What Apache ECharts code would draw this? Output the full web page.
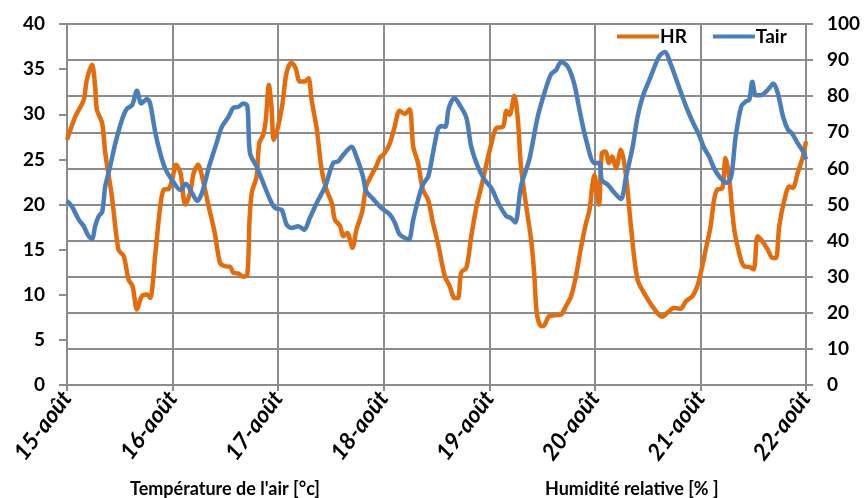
<!DOCTYPE html>
<html>
<head>
<meta charset="utf-8">
<script src="https://cdn.jsdelivr.net/npm/echarts@6/dist/echarts.min.js"></script>
<style>
    html, body { margin: 0; padding: 0; background: #fff; }
    #chart { width: 864px; height: 498px; }
</style>
</head>
<body>
<div id="chart"></div>
<script>
// jours affichés sur l'axe x (une graduation toutes les 24 h)
const dayLabels = ['15-août', '16-août', '17-août', '18-août', '19-août', '20-août', '21-août', '22-août'];

// HR (%) - heures depuis le 15-août 00h
const hrHours = [0, 1.9, 3.8, 4.5, 5.7, 6.4, 6.8, 8.0, 8.7, 10.2, 11.7, 12.9, 14.0, 14.9, 15.9, 17.0, 18.2, 18.9, 20.1, 21.2,
    22.0, 23.1, 23.9, 24.8, 25.8, 26.9, 28.0, 28.8, 29.8, 30.7, 32.2, 33.6, 34.8, 35.9, 37.1, 37.8, 38.9, 40.1, 41.0, 41.5,
    42.0, 43.1, 43.7, 44.6, 45.2, 45.9, 46.5, 47.0, 48.0, 49.0, 49.9, 51.0, 52.0, 52.9, 54.1, 54.9, 55.6, 56.8, 57.9, 59.0,
    60.2, 60.9, 62.1, 62.8, 63.7, 64.9, 65.8, 67.1, 68.0, 69.1, 70.3, 71.1, 72.2, 73.4, 74.5, 75.6, 76.8, 77.9, 78.7, 79.8,
    80.9, 82.1, 83.2, 84.3, 85.9, 87.0, 88.1, 88.9, 89.6, 90.8, 91.9, 93.1, 94.2, 95.4, 96.5, 97.6, 99.1, 99.9, 100.6, 101.7,
    102.5, 103.2, 104.4, 105.5, 106.2, 106.8, 107.8, 108.5, 109.6, 110.8, 112.3, 113.4, 114.6, 115.7, 116.9, 118.0, 118.8, 119.4, 119.9, 120.9,
    121.6, 122.4, 123.2, 123.9, 124.8, 125.9, 127.1, 128.2, 129.7, 131.6, 133.2, 135.3, 136.9, 138.0, 139.5, 140.7, 142.2, 143.3, 144.1, 145.2,
    146.3, 147.1, 147.8, 149.0, 149.7, 150.5, 151.6, 152.8, 153.9, 155.1, 156.1, 157.0, 158.1, 159.3, 160.4, 161.2, 161.9, 163.1, 164.2, 165.0,
    166.1, 167.3, 168.0];
const hrValues = [67.9, 74.4, 79.0, 84.5, 88.7, 82.7, 76.2, 72.5, 64.2, 52.3, 37.5, 35.7, 29.2, 27.4, 20.9, 24.6, 25.1, 24.1, 36.6, 49.5,
    54.1, 54.3, 56.9, 61.0, 58.7, 50.0, 53.2, 58.7, 61.0, 57.8, 49.5, 42.1, 33.8, 32.9, 32.7, 31.1, 30.9, 30.0, 30.6, 45.8,
    53.2, 57.8, 67.0, 69.3, 73.5, 83.1, 77.1, 67.9, 71.6, 78.1, 86.4, 89.3, 87.7, 84.1, 84.1, 85.0, 79.0, 70.7, 59.6, 54.1,
    50.4, 45.8, 44.0, 41.2, 42.1, 38.0, 43.0, 48.0, 55.0, 57.8, 60.6, 62.9, 64.2, 67.0, 71.6, 76.0, 75.1, 76.4, 66.1, 61.5,
    54.1, 51.3, 44.9, 39.4, 30.1, 27.4, 24.1, 24.1, 31.1, 32.5, 41.2, 49.5, 55.0, 61.5, 67.0, 71.2, 71.5, 76.0, 74.8, 80.1,
    73.5, 60.6, 49.5, 40.3, 31.1, 20.0, 16.3, 16.5, 19.1, 19.3, 19.5, 21.8, 24.6, 30.1, 38.4, 44.9, 48.6, 55.0, 58.2, 50.0,
    64.2, 64.7, 61.5, 63.3, 60.1, 65.2, 57.8, 44.0, 29.2, 24.6, 21.6, 18.9, 20.5, 21.4, 21.1, 23.2, 24.6, 27.4, 31.1, 37.5,
    43.9, 51.3, 54.1, 54.6, 62.9, 57.8, 43.9, 36.6, 32.9, 32.7, 32.0, 41.2, 39.8, 37.5, 35.2, 35.2, 43.9, 51.3, 55.0, 54.6,
    58.7, 63.3, 67.5];

// Tair (°C)
const tairHours = [0, 1.1, 2.7, 3.8, 4.9, 5.7, 6.4, 7.2, 8.0, 8.7, 9.8, 11.0, 12.5, 13.6, 14.8, 15.9, 16.9, 18.2, 18.9, 20.1,
    21.2, 22.3, 23.9, 25.8, 27.0, 28.4, 29.6, 30.7, 32.3, 34.0, 35.2, 36.7, 37.8, 38.9, 40.1, 41.0, 41.6, 43.1, 44.6, 46.2,
    47.3, 48.8, 49.9, 51.0, 52.6, 53.9, 55.2, 56.8, 58.7, 60.5, 61.7, 62.8, 64.7, 65.8, 67.3, 68.0, 70.0, 71.5, 73.4, 74.5,
    75.6, 76.8, 77.7, 78.7, 79.8, 80.9, 82.1, 83.2, 84.3, 85.1, 86.0, 86.8, 88.1, 89.3, 90.8, 91.9, 93.4, 95.0, 96.5, 98.0,
    99.9, 100.9, 101.9, 103.2, 105.1, 107.0, 108.5, 110.0, 111.2, 112.3, 113.8, 115.3, 116.5, 118.0, 119.9, 121.0, 121.6, 122.9, 124.1, 125.9,
    127.1, 128.6, 129.7, 130.9, 132.4, 134.6, 135.9, 137.2, 138.7, 140.7, 142.2, 143.7, 144.9, 146.0, 147.1, 148.6, 150.0, 151.0, 152.0, 153.3,
    154.3, 155.1, 155.8, 156.6, 157.7, 159.3, 160.6, 161.6, 162.8, 163.9, 164.8, 166.1, 167.3, 168.0];
const tairValues = [20.4, 19.8, 18.3, 17.6, 16.5, 16.2, 17.6, 18.7, 19.2, 22.0, 24.2, 26.8, 29.4, 30.6, 31.0, 32.6, 31.2, 31.7, 31.2, 27.9,
    25.7, 24.0, 22.7, 21.6, 22.3, 21.3, 20.4, 21.3, 24.2, 26.8, 28.6, 29.7, 30.7, 30.8, 31.2, 30.9, 25.7, 24.2, 22.4, 20.5,
    19.6, 19.4, 17.8, 17.4, 17.6, 17.2, 18.5, 20.2, 22.0, 24.6, 24.8, 25.5, 26.4, 25.3, 23.1, 21.5, 20.4, 19.6, 18.9, 18.0,
    16.7, 16.3, 16.1, 18.3, 20.5, 22.2, 23.1, 25.7, 28.3, 28.7, 28.6, 30.7, 31.8, 31.0, 29.6, 26.4, 24.2, 22.7, 21.8, 20.2,
    18.7, 18.5, 18.0, 22.0, 25.0, 29.7, 32.3, 34.4, 34.9, 35.8, 35.3, 33.4, 30.5, 27.2, 24.6, 24.6, 22.7, 22.2, 21.5, 20.6,
    23.1, 26.4, 29.7, 32.0, 33.8, 36.4, 36.9, 35.6, 33.6, 30.9, 29.2, 27.7, 26.2, 25.3, 24.0, 22.9, 22.4, 23.1, 27.5, 30.9,
    31.4, 31.6, 33.6, 32.1, 32.1, 32.7, 33.4, 32.3, 29.7, 28.3, 27.9, 26.8, 25.9, 25.0];

const gridColor = '#8c8c8c';
const fontFamily = 'Lato, "Open Sans", sans-serif';

const myChart = echarts.init(document.getElementById('chart'));

const zip = (xs, ys) => xs.map((x, i) => [x, ys[i]]);

const option = {
    backgroundColor: '#fff',
    animation: false,
    grid: {
        left: 67,
        right: 58,
        top: 24,
        bottom: 113
    },
    legend: {
        left: 612,
        top: 22,
        itemWidth: 42,
        itemHeight: 4,
        itemGap: 26,
        icon: 'rect',
        textStyle: {
            fontFamily: fontFamily,
            fontSize: 19,
            fontWeight: 'bold',
            color: '#000',
            padding: [0, 0, 0, -4]
        },
        data: ['HR', 'Tair']
    },
    xAxis: {
        type: 'value',
        min: 0,
        max: 168,
        interval: 24,
        axisLine: { show: true, onZero: false, lineStyle: { color: gridColor, width: 2 } },
        axisTick: { show: true, length: 6, lineStyle: { color: gridColor, width: 2 } },
        splitLine: { show: true, lineStyle: { color: gridColor, width: 2 } },
        axisLabel: {
            rotate: 53,
            margin: 9,
            fontFamily: fontFamily,
            fontSize: 23,
            fontWeight: 'bold',
            fontStyle: 'italic',
            color: '#000',
            formatter: (v) => dayLabels[Math.round(v / 24)]
        }
    },
    yAxis: [
        {
            type: 'value',
            min: 0,
            max: 40,
            interval: 5,
            position: 'left',
            axisLine: { show: true, lineStyle: { color: gridColor, width: 2 } },
            axisTick: { show: true, length: 8, lineStyle: { color: gridColor, width: 2 } },
            splitLine: { show: false },
            axisLabel: {
                margin: 22,
                fontFamily: fontFamily,
                fontSize: 19,
                fontWeight: 'bold',
                color: '#000'
            }
        },
        {
            type: 'value',
            min: 0,
            max: 100,
            interval: 10,
            position: 'right',
            axisLine: { show: true, lineStyle: { color: gridColor, width: 2 } },
            axisTick: { show: true, length: 7, lineStyle: { color: gridColor, width: 2 } },
            splitLine: { show: true, lineStyle: { color: gridColor, width: 2 } },
            axisLabel: {
                margin: 21,
                fontFamily: fontFamily,
                fontSize: 19,
                fontWeight: 'bold',
                color: '#000'
            }
        }
    ],
    graphic: [
        {
            type: 'text',
            left: 130,
            top: 480,
            style: {
                text: "Température de l'air [°c]",
                fontFamily: fontFamily,
                fontSize: 18,
                fontWeight: 'bold',
                fill: '#000'
            }
        },
        {
            type: 'text',
            left: 545,
            top: 480,
            style: {
                text: 'Humidité relative [% ]',
                fontFamily: fontFamily,
                fontSize: 18,
                fontWeight: 'bold',
                fill: '#000'
            }
        }
    ],
    series: [
        {
            name: 'HR',
            type: 'line',
            yAxisIndex: 1,
            smooth: 0.3,
            symbol: 'none',
            itemStyle: { color: '#E46C0A' },
            lineStyle: { color: '#E46C0A', width: 4.5 },
            data: zip(hrHours, hrValues)
        },
        {
            name: 'Tair',
            type: 'line',
            yAxisIndex: 0,
            smooth: 0.3,
            symbol: 'none',
            itemStyle: { color: '#4A7EBB' },
            lineStyle: { color: '#4A7EBB', width: 4.5 },
            data: zip(tairHours, tairValues)
        }
    ]
};

myChart.setOption(option);
</script>
</body>
</html>
